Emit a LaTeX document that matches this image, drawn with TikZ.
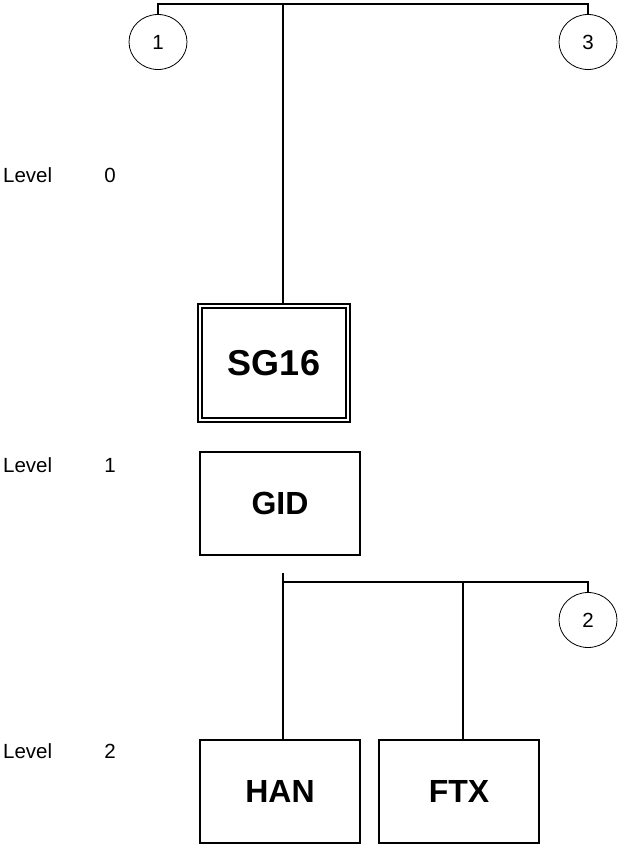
\documentclass[tikz,border=0pt]{standalone}
\usepackage{fontspec}
\setmainfont{Liberation Sans}
\usetikzlibrary{shapes.geometric}
\tikzset{
  unitbox/.style={draw, line width=2pt, inner sep=0pt, minimum width=160pt, minimum height=103pt, font=\bfseries\fontsize{32}{32}\selectfont},
  topbox/.style={draw, double, line width=2.2pt, double distance=2pt, inner sep=0pt, minimum width=147.6pt, minimum height=113.6pt, font=\bfseries\fontsize{36}{36}\selectfont},
  connector/.style={draw, ellipse, line width=0.8pt, inner sep=0pt, minimum width=58pt, minimum height=55pt, font=\fontsize{20.5}{20.5}\selectfont},
  busline/.style={line width=2.8pt},
  lvltext/.style={font=\fontsize{20.5}{20.5}\selectfont, inner sep=0pt}
}

\begin{document}
\begin{tikzpicture}[x=1pt,y=-1pt]
\useasboundingbox (0,0) rectangle (618,845);
% level captions
\foreach \lv/\y in {0/175,1/465,2/751}{
  \node[lvltext, anchor=west] (lvl\lv) at (3,\y) {Level};
  \node[lvltext] (num\lv) at (110,\y) {\lv};
}
% boxes
\node[topbox] (sg) at (274,363) {SG16};
\node[unitbox] (gid) at (280,503.5) {GID};
\node[unitbox] (han) at (280,791.5) {HAN};
\node[unitbox] (ftx) at (459,791.5) {FTX};
% off-page connectors
\node[connector] (c1) at (158,42) {1};
\node[connector] (c3) at (588,42) {3};
\node[connector] (c2) at (588,620) {2};
% top bus
\coordinate (bus0) at (283,4);
\draw[busline] (c1.north) |- (bus0) -| (c3.north);
\draw[busline] (bus0) -- (bus0 |- sg.north);
% lower bus
\coordinate (stub) at (283,573);
\coordinate (bus2) at (283,582);
\coordinate (tap) at (463,582);
\draw[busline] (stub) -- (stub |- han.north);
\draw[busline] (bus2) -| (c2.north);
\draw[busline] (tap) -- (tap |- ftx.north);
\end{tikzpicture}
\end{document}
